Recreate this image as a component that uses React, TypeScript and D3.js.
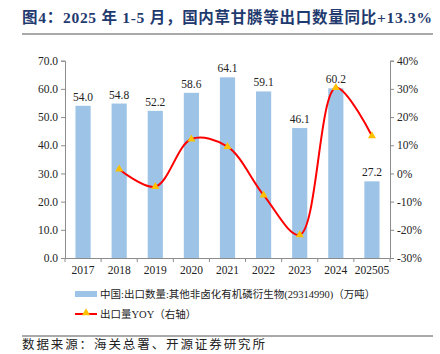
import React, { useEffect, useRef } from 'react';
import * as d3 from 'd3';

const years = ['2017', '2018', '2019', '2020', '2021', '2022', '2023', '2024', '202505'];
const exportVolume = [54.0, 54.8, 52.2, 58.6, 64.1, 59.1, 46.1, 60.2, 27.2];
// YOY (%) from 2018 onwards
const yoyYears = ['2018', '2019', '2020', '2021', '2022', '2023', '2024', '202505'];
const yoyValues = [1.5, -4.7, 12.2, 9.5, -7.7, -21.8, 30.4, 13.3];
const leftTicks = [0, 10, 20, 30, 40, 50, 60, 70];
const rightTicks = [-30, -20, -10, 0, 10, 20, 30, 40];

const serif = '"Liberation Serif", "Times New Roman", "Noto Sans CJK SC", serif';

function App() {
  const ref = useRef<SVGSVGElement>(null);

  useEffect(() => {
    const svg = d3.select(ref.current);
    svg.selectAll('*').remove();

    const left = 65, right = 390, top = 60.7, bottom = 258;

    const x = d3.scaleBand().domain(years).range([left, right]).paddingInner(0.58).paddingOuter(0.29);
    const xc = (d: string) => (x(d) as number) + x.bandwidth() / 2;
    const y = d3.scaleLinear().domain([0, 70]).range([bottom, top]);
    const y2 = d3.scaleLinear().domain([-30, 40]).range([bottom, top]);

    // title
    svg.append('text')
      .attr('x', 22).attr('y', 23)
      .attr('font-family', serif)
      .attr('font-weight', 'bold')
      .attr('font-size', 15.5)
      .attr('fill', '#1f3a6e')
      .attr('textLength', 410)
      .attr('lengthAdjust', 'spacing')
      .text('图4：2025 年 1-5 月，国内草甘膦等出口数量同比+13.3%');
    svg.append('line').attr('x1', 22).attr('x2', 433).attr('y1', 34).attr('y2', 34)
      .attr('stroke', '#8c8c8c').attr('stroke-width', 1.5);

    // bars
    svg.selectAll('.bar')
      .data(exportVolume)
      .enter().append('rect')
      .attr('x', (d, i) => x(years[i]) as number)
      .attr('y', d => y(d))
      .attr('width', x.bandwidth())
      .attr('height', d => bottom - y(d))
      .attr('fill', '#9dc3e6');

    svg.selectAll('.barlabel')
      .data(exportVolume)
      .enter().append('text')
      .attr('x', (d, i) => xc(years[i]))
      .attr('y', d => y(d) - 5)
      .attr('text-anchor', 'middle')
      .attr('font-family', serif)
      .attr('font-size', 11.5)
      .attr('fill', '#222')
      .text(d => d.toFixed(1));

    // axes
    const axisColor = '#8c8c8c';
    const gl = svg.append('g').attr('transform', `translate(${left},0)`)
      .call(d3.axisLeft(y).tickValues(leftTicks).tickSize(4).tickFormat(d => (d as number).toFixed(1)));
    const gr = svg.append('g').attr('transform', `translate(${right},0)`)
      .call(d3.axisRight(y2).tickValues(rightTicks).tickSize(4).tickFormat(d => `${d}%`));
    const gx = svg.append('g').attr('transform', `translate(0,${bottom})`)
      .call(d3.axisBottom(x).tickSize(0).tickPadding(8));
    [gl, gr, gx].forEach(g => {
      g.select('.domain').attr('stroke', axisColor);
      g.selectAll('.tick line').attr('stroke', axisColor);
      g.selectAll('.tick text').attr('font-family', serif).attr('font-size', 11.5).attr('fill', '#222');
    });
    gl.selectAll('.tick text').attr('x', -7);
    gr.selectAll('.tick text').attr('x', 7);
    // x ticks between categories
    const step = x.step();
    gx.selectAll('.sep')
      .data(d3.range(years.length + 1))
      .enter().append('line')
      .attr('x1', i => left + i * step).attr('x2', i => left + i * step)
      .attr('y1', 0).attr('y2', 4)
      .attr('stroke', axisColor);

    // yoy line
    const pts: [number, number][] = yoyValues.map((v, i) => [xc(yoyYears[i]), y2(v)]);
    const line = d3.line().curve(d3.curveCatmullRom.alpha(0.5));
    svg.append('path').attr('d', line(pts)).attr('fill', 'none').attr('stroke', '#ff0000').attr('stroke-width', 2);
    const tri = d3.symbol().type(d3.symbolTriangle).size(28);
    svg.selectAll('.mk')
      .data(pts)
      .enter().append('path')
      .attr('d', tri())
      .attr('transform', d => `translate(${d[0]},${d[1]})`)
      .attr('fill', '#ffc000');

    // legend
    const legFont = '"Liberation Serif", "Noto Sans CJK SC", serif';
    svg.append('rect').attr('x', 75).attr('y', 291).attr('width', 22).attr('height', 6).attr('fill', '#9dc3e6');
    svg.append('text').attr('x', 100).attr('y', 298)
      .attr('font-family', legFont).attr('font-size', 10.5).attr('fill', '#222')
      .text('中国:出口数量:其他非卤化有机磷衍生物(29314990)（万吨）');
    svg.append('line').attr('x1', 75).attr('x2', 97).attr('y1', 314).attr('y2', 314)
      .attr('stroke', '#ff0000').attr('stroke-width', 2);
    svg.append('path').attr('d', tri()).attr('transform', 'translate(86,313)').attr('fill', '#ffc000');
    svg.append('text').attr('x', 100).attr('y', 318)
      .attr('font-family', legFont).attr('font-size', 10.5).attr('fill', '#222')
      .text('出口量YOY（右轴）');

    // source
    svg.append('line').attr('x1', 22).attr('x2', 433).attr('y1', 336).attr('y2', 336)
      .attr('stroke', '#555').attr('stroke-width', 1);
    svg.append('text').attr('x', 22).attr('y', 349)
      .attr('font-family', '"Noto Sans CJK SC", sans-serif').attr('font-size', 12.5).attr('fill', '#222')
      .attr('textLength', 243)
      .attr('lengthAdjust', 'spacing')
      .text('数据来源：海关总署、开源证券研究所');
  }, []);

  return (
    <svg ref={ref} width={440} height={354} style={{ position: 'absolute', left: 0, top: 0 }} />
  );
}

export default App;
